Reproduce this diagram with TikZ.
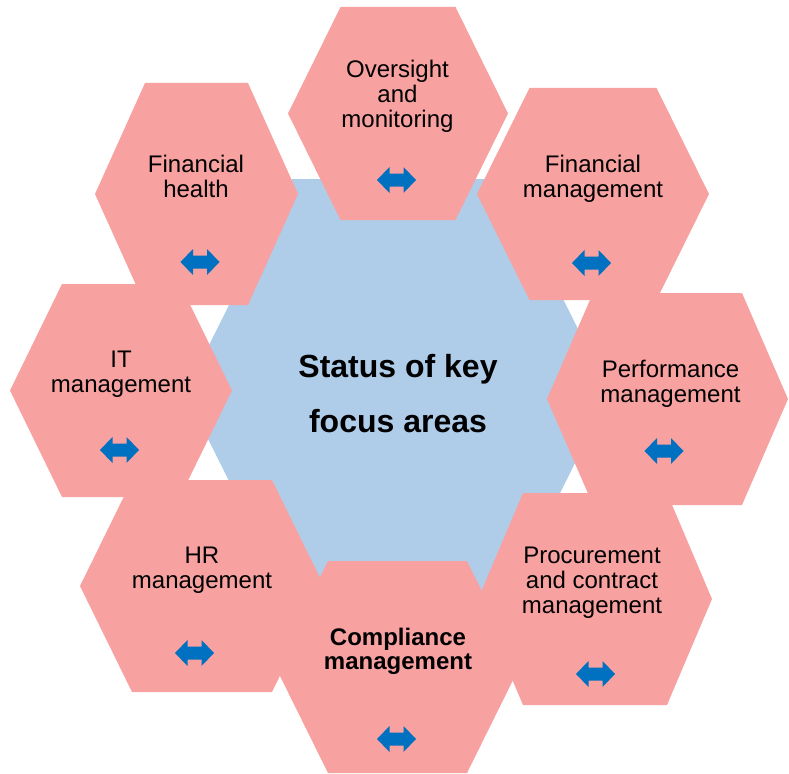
\documentclass[tikz,border=0pt]{standalone}
\usepackage{fontspec}
\setmainfont{Liberation Sans}
\definecolor{hexpink}{RGB}{248,161,161}
\definecolor{hexblue}{RGB}{175,204,233}
\definecolor{arrowblue}{RGB}{0,112,192}
% flat-topped hexagon: centre (#2,#3), half width to the side corners #4,
% half length of the top edge #5, half height #6
\newcommand\hexfill[6]{%
  \fill[#1] ({#2-#4},#3) -- ({#2-#5},{#3-#6}) -- ({#2+#5},{#3-#6})
    -- ({#2+#4},#3) -- ({#2+#5},{#3+#6}) -- ({#2-#5},{#3+#6}) -- cycle;}
\tikzset{
  twoway/.pic={\fill[arrowblue] (-19.5,0) -- (-7,-13) -- (-7,-6.5) -- (7,-6.5)
      -- (7,-13) -- (19.5,0) -- (7,13) -- (7,6.5) -- (-7,6.5) -- (-7,13) -- cycle;},
  % labels are placed by the baseline of their last line
  areatext/.style={font=\fontsize{24}{25}\selectfont, align=center, anchor=base,
      inner sep=0pt, text=black},
  hubtext/.style={font=\fontsize{32}{55}\selectfont\bfseries, align=center,
      anchor=base, inner sep=0pt, text=black}
}
\begin{document}
\begin{tikzpicture}[x=1pt,y=-1pt]
\useasboundingbox (0,0) rectangle (789,773);
% central hexagon
\hexfill{hexblue}{397.5}{393}{212.5}{105.5}{214}
% surrounding hexagons
\hexfill{hexpink}{398}{113.5}{110}{57.5}{106.5}
\hexfill{hexpink}{196.5}{194}{101.5}{51.5}{111}
\hexfill{hexpink}{593}{194}{116}{63.5}{106}
\hexfill{hexpink}{121}{390.5}{111}{59}{106.5}
\hexfill{hexpink}{667.5}{399}{120.5}{74.5}{106}
\hexfill{hexpink}{202}{586}{122}{70}{106}
\hexfill{hexpink}{595}{599}{117}{72}{106}
\hexfill{hexpink}{397.5}{667}{122}{69.5}{106}
% labels
\node[hubtext] (hub) at (398,432) {Status of key\\focus areas};
\node[areatext] (oversight) at (397.5,128) {Oversight\\and\\monitoring};
\node[areatext] (finhealth) at (196,197) {Financial\\health};
\node[areatext] (finmgmt) at (593,197) {Financial\\management};
\node[areatext] (itmgmt) at (121,392) {IT\\management};
\node[areatext] (perf) at (670.5,402) {Performance\\management};
\node[areatext] (hrmgmt) at (202,588) {HR\\management};
\node[areatext] (procure) at (592,613) {Procurement\\and contract\\management};
\node[areatext, font=\fontsize{24}{24}\selectfont\bfseries] (comply) at (398,669) {Compliance\\management};
% two-way status arrows
\pic at (396.5,180) {twoway};
\pic at (200,262) {twoway};
\pic at (591.5,263) {twoway};
\pic at (119.5,450) {twoway};
\pic at (664,451) {twoway};
\pic at (194.5,653) {twoway};
\pic at (595.5,674) {twoway};
\pic at (396.5,739) {twoway};
\end{tikzpicture}
\end{document}
